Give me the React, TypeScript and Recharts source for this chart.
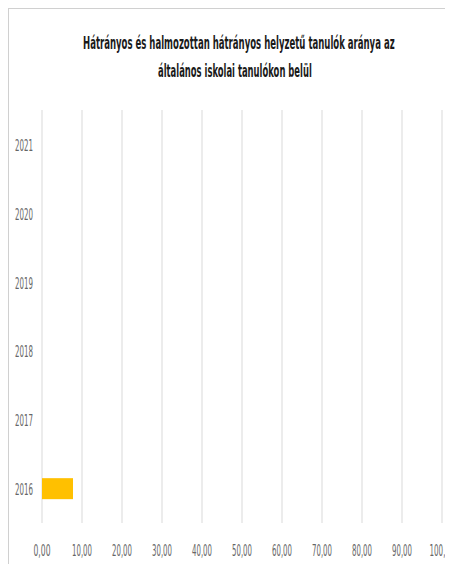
import { useLayoutEffect, useRef, useState } from "react";
import { BarChart, Bar, XAxis, YAxis, CartesianGrid } from "recharts";

const years = ["2016", "2017", "2018", "2019", "2020", "2021"];
const shares = [7.75, null, null, null, null, null];
const xTicks = [0, 10, 20, 30, 40, 50, 60, 70, 80, 90, 100];
const titleLines = ["Hátrányos és halmozottan hátrányos helyzetű  tanulók aránya az", "általános iskolai tanulókon belül"];

const data = years.map((year, i) => ({ year, share: shares[i] }));

const font = "'DejaVu Sans Condensed', 'Liberation Sans Narrow', sans-serif";

// squeeze a line of svg text to a given width (the reference font is very narrow)
function FitText({ x, y, width, children, ...rest }: any) {
    const ref = useRef<SVGTextElement>(null);
    const [sx, setSx] = useState(1);
    useLayoutEffect(() => {
        if (ref.current) {
            const len = ref.current.getComputedTextLength();
            if (len > 0) setSx(width / len);
        }
    }, [width]);
    return (
        <text ref={ref} transform={`translate(${x},${y}) scale(${sx},1)`} {...rest}>
            {children}
        </text>
    );
}

function XTick({ x, y, payload }: any) {
    const label = Number(payload.value).toFixed(2).replace(".", ",");
    const w = label.length === 4 ? 17 : label.length === 5 ? 20 : 25;
    return (
        <text x={x} y={y + 33} textAnchor="middle" fontSize={15} fontFamily={font} fill="#666" textLength={w} lengthAdjust="spacingAndGlyphs">
            {label}
        </text>
    );
}

function YTick({ x, y, payload }: any) {
    return (
        <text x={x - 9} y={y + 6.5} textAnchor="end" fontSize={15} fontFamily={font} fill="#666" textLength={18} lengthAdjust="spacingAndGlyphs">
            {payload.value}
        </text>
    );
}

export default function App() {
    return (
        <div style={{ width: 445, height: 556, overflow: "hidden", position: "relative" }}>
            <div style={{ position: "absolute", left: 0, top: 0, width: 470, height: 600, borderTop: "1px solid #d0d0d0", borderLeft: "1px solid #d0d0d0", background: "#fff" }}>
                <svg width={445} height={90} style={{ position: "absolute", left: 0, top: 0 }}>
                    <FitText x={74} y={40} width={312} fontSize={18} fontWeight={600} fontFamily={font} fill="#1a1a1a">
                        {titleLines[0]}
                    </FitText>
                    <FitText x={149} y={68} width={154} fontSize={18} fontWeight={600} fontFamily={font} fill="#1a1a1a">
                        {titleLines[1]}
                    </FitText>
                </svg>
                <BarChart width={460} height={555} data={data} layout="vertical" margin={{ top: 101, right: 27, left: 0, bottom: 0 }}>
                    <CartesianGrid horizontal={false} stroke="#d9d9d9" />
                    <XAxis type="number" domain={[0, 100]} ticks={xTicks} interval={0} height={41} axisLine={false} tickLine={false} tickSize={0} tickMargin={0} tick={<XTick />} />
                    <YAxis type="category" dataKey="year" reversed width={33} axisLine={false} tickLine={false} tickSize={0} tickMargin={0} tick={<YTick />} />
                    <Bar dataKey="share" fill="#FFC000" barSize={21} isAnimationActive={false} />
                </BarChart>
            </div>
        </div>
    );
}
